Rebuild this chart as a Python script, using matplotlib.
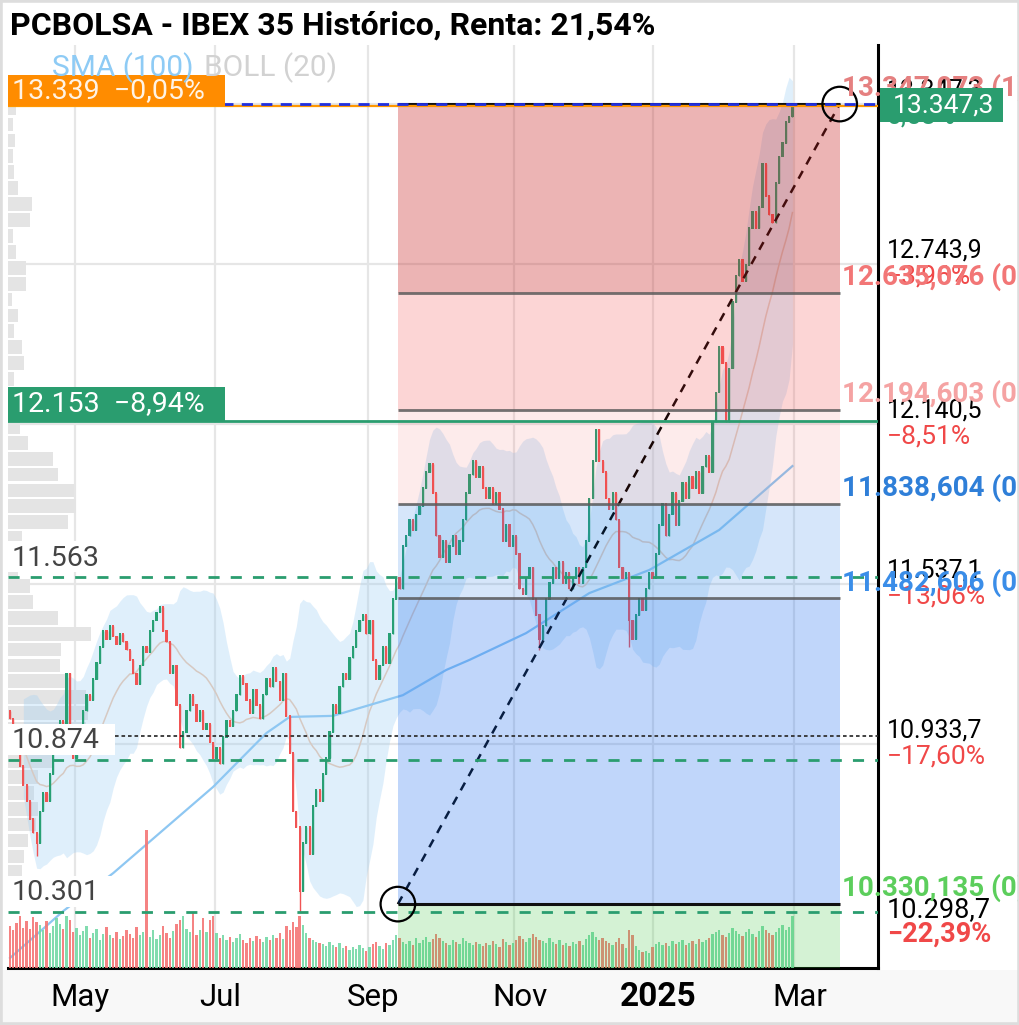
import numpy as np
import pandas as pd
import matplotlib
matplotlib.use('Agg')
import matplotlib.pyplot as plt
from matplotlib.patches import Rectangle
from matplotlib.transforms import blended_transform_factory

plt.rcParams['font.family'] = ['Roboto', 'DejaVu Sans']

W, H = 1020, 1025
PPX = 3.771        # puntos de precio por pixel
IPX = 1 / 3.33     # sesiones por pixel

# ---------------- datos ----------------
first_open = 11060
closes = [
    11030, 10990, 10950, 10850, 10780, 10720, 10650, 10600, 10560, 10680,
    10750, 10720, 10820, 10900, 10980, 11020, 10990, 11200, 11000, 10880,
    10950, 11000, 11060, 11120, 11100, 11180, 11240, 11300, 11360, 11330,
    11380, 11340, 11310, 11350, 11320, 11290, 11250, 11200, 11160, 11230,
    11300, 11280, 11360, 11400, 11430, 11450, 11360, 11320, 11200, 11230,
    11080, 10920, 10980, 11060, 11120, 11080, 11020, 11060, 10990, 11010,
    10940, 10880, 10920, 10860, 10960, 11020, 11000, 11060, 11120, 11190,
    11160, 11100, 11050, 11140, 11080, 11030, 11120, 11180, 11150, 11220,
    11170, 11100, 11200, 11040, 10900, 10680, 10620, 10380, 10560, 10620,
    10520, 10700, 10760, 10720, 10820, 10880, 10980, 11080, 11050, 11150,
    11200, 11180, 11260, 11300, 11360, 11400, 11420, 11350, 11400, 11250,
    11180, 11230, 11300, 11240, 11350, 11480, 11560, 11520, 11680, 11720,
    11780, 11740, 11800, 11830, 11900, 11960, 11990, 11880, 11720, 11640,
    11700, 11620, 11680, 11720, 11650, 11700, 11780, 11880, 11950, 12000,
    11940, 11980, 11900, 11860, 11900, 11840, 11880, 11820, 11700, 11760,
    11680, 11720, 11650, 11520, 11500, 11560, 11600, 11480, 11420, 11330,
    11380, 11480, 11540, 11600, 11560, 11620, 11540, 11580, 11520, 11560,
    11600, 11540, 11600, 11700, 11860, 12000, 12120, 12000, 11960, 11860,
    11820, 11880, 11780, 11600, 11560, 11580, 11400, 11330, 11420, 11480,
    11440, 11520, 11580, 11560, 11650, 11760, 11840, 11720, 11800, 11880,
    11760, 11850, 11920, 11860, 11940, 11900, 11960, 11880, 11980, 12020,
    11960, 12150, 12260, 12430, 12370, 12150, 12350, 12600, 12700, 12760,
    12680, 12740, 12880, 12940, 12880, 12960, 13120, 13000, 12930, 12900,
    13050, 13150, 13200, 13280, 13300, 13339,
]
low_idx = [8, 87, 159, 186]
low_val = [10510, 10301, 11290, 11300]

volume = [
    420, 380, 450, 520, 400, 470, 390, 510, 460, 430,
    380, 470, 350, 420, 500, 440, 390, 520, 480, 360,
    400, 330, 370, 420, 300, 350, 390, 280, 340, 410,
    330, 300, 360, 290, 320, 380, 340, 300, 410, 330,
    360, 1380, 310, 380, 290, 330, 420, 350, 300, 370,
    440, 480, 520, 390, 360, 560, 330, 380, 500, 360,
    480, 520, 350, 300, 330, 280, 310, 260, 300, 340,
    280, 250, 300, 270, 320, 290, 260, 310, 280, 330,
    300, 350, 290, 420, 380, 460, 410, 520, 430, 350,
    300, 280, 260, 250, 240, 220, 260, 230, 210, 250,
    200, 220, 180, 210, 190, 230, 200, 170, 210, 240,
    260, 220, 190, 250, 230, 280, 330, 300, 260, 240,
    270, 230, 300, 250, 280, 310, 260, 290, 340, 300,
    270, 250, 230, 280, 260, 240, 300, 270, 250, 230,
    260, 240, 220, 250, 230, 270, 240, 210, 290, 260,
    230, 250, 280, 320, 290, 260, 300, 340, 310, 280,
    270, 250, 300, 260, 240, 280, 230, 250, 220, 260,
    240, 270, 230, 290, 330, 360, 310, 280, 300, 270,
    250, 230, 260, 300, 240, 200, 380, 330, 220, 180,
    160, 170, 150, 210, 240, 260, 230, 250, 220, 270,
    240, 260, 280, 230, 250, 270, 240, 290, 260, 280,
    300, 340, 360, 380, 330, 310, 350, 400, 370, 340,
    320, 360, 390, 340, 310, 370, 420, 380, 350, 330,
    360, 400, 430, 380, 410, 520,
]

sma_idx = [0, 16, 31, 61, 77, 84, 97, 118, 131, 138, 155, 174, 192, 213, 235]
sma_val = [10127, 10304, 10447, 10772, 10975, 11036, 11040, 11118, 11213,
           11251, 11352, 11503, 11590, 11741, 11982]

profile_price = np.arange(10450, 13331, 60)
profile_vol = [14, 16, 20, 28, 30, 26, 30, 45, 52, 78,
               80, 78, 60, 52, 53, 83, 50, 25, 22, 10,
               8, 14, 60, 68, 66, 50, 45, 20, 12, 6,
               4, 6, 16, 14, 6, 10, 4, 18, 18, 8,
               5, 22, 24, 10, 6, 5, 7, 5, 8]

dash_levels = [11563, 10874, 10301]
dash_labels = ['11.563', '10.874', '10.301']
green_level, green_text = 12153, '12.153  −8,94%'
last_close, last_text = 13339, '13.339  −0,05%'
high_line = 13347
dotted_level = 10965

fib_ratios = [0, 0.382, 0.5, 0.618, 0.764, 1]
fib_vals = [10330.135, 11482.606, 11838.604, 12194.603, 12635.076, 13347.073]
fib_colors = ['#5cce5c', '#3a8de8', '#2f7fd8', '#f5a3a3', '#f27676', '#e58080']
fib_x0, fib_x1 = 116.5, 249.2

axis_ticks = [13347.3, 12743.9, 12140.5, 11537.1, 10933.7]
axis_pcts = ['0,58%', '−3,96%', '−8,51%', '−13,06%', '−17,60%']
min_tick, min_pct = 10298.7, '−22,39%'

month_pos = [19.5, 61.5, 107.5, 151.5, 193, 235.5]
month_lab = ['May', 'Jul', 'Sep', 'Nov', '2025', 'Mar']


def es(v, dec):
    s = f"{v:,.{dec}f}"
    return s.replace(',', 'X').replace('.', ',').replace('X', '.')


# ---------------- figura ----------------
fig = plt.figure(figsize=(W / 100, H / 100), dpi=100)
fig.patches.append(Rectangle((0, 0), 1, 55 / H, transform=fig.transFigure,
                             fc='#f8f8f8', ec='none', zorder=-5))
fig.patches.append(Rectangle((0, 0), 1, 1, transform=fig.transFigure,
                             fill=False, ec='#dddddd', lw=4, zorder=10))

ax = fig.add_axes([8 / W, 1 - 968 / H, 870 / W, 923 / H])
ymin, ymax = 10089.2, 13569.8
ax.set_xlim(-0.6, 260.7)
ax.set_ylim(ymin, ymax)
ax.set_xticks([])
ax.set_yticks([])
for s in ['left', 'top']:
    ax.spines[s].set_visible(False)
for s in ['right', 'bottom']:
    ax.spines[s].set_linewidth(2.2)
    ax.spines[s].set_color('black')

bt = blended_transform_factory(ax.transAxes, ax.transData)

# rejilla
for p in month_pos:
    ax.axvline(p, color='#e6e6e6', lw=1.6, zorder=0)
for t in axis_ticks:
    ax.axhline(t, color='#e6e6e6', lw=1.6, zorder=0)

# perfil de volumen
ax.barh(profile_price, np.array(profile_vol) * IPX, left=-0.6, height=52,
        color='#e4e4e4', zorder=1)

# bandas de Bollinger (20) y SMA (100)
x = np.arange(len(closes))
s = pd.Series(closes, dtype=float)
mid = s.rolling(20, min_periods=5).mean()
sd = s.rolling(20, min_periods=5).std(ddof=0)
ax.fill_between(x, mid - 2 * sd, mid + 2 * sd, color='#a0d0f5', alpha=0.33,
                lw=0, zorder=2)
ax.plot(x, mid, color='#d6c9c2', lw=1.1, zorder=2.5)
ax.plot(sma_idx, sma_val, color='#8ec7f2', lw=1.6, zorder=3)

# velas
opens = np.array([first_open] + closes[:-1], dtype=float)
cl = np.array(closes, dtype=float)
lows = np.minimum(opens, cl)
highs = np.maximum(opens, cl)
lows[low_idx] = low_val
up = cl >= opens
ccol = np.where(up, '#27a074', '#f05454')
ax.vlines(x, lows, highs, colors=ccol, lw=1.0, zorder=4)
ax.bar(x, np.abs(cl - opens) + 6, bottom=np.minimum(opens, cl) - 3,
       width=0.68, color=ccol, lw=0, zorder=4)

# volumen
vcol = np.where(up, '#74d9a6', '#f47676')
ax.bar(x, np.array(volume) * PPX / 10, bottom=ymin, width=0.7, color=vcol,
       alpha=0.9, lw=0, zorder=3.5)

# Fibonacci
fib_low, fib_high = fib_vals[0], fib_vals[-1]
ax.plot([fib_x0, fib_x1], [fib_low, fib_high], color='black', lw=1.8,
        ls=(0, (3.5, 3)), zorder=4.5)
zone_bounds = [ymin] + fib_vals
zone_cols = [('#3cc83c', 0.22), ('#1e6ef0', 0.28), ('#1e78e6', 0.18),
             ('#f03c3c', 0.10), ('#f53c3c', 0.21), ('#c82828', 0.345)]
for (c, a), lo, hi in zip(zone_cols, zone_bounds[:-1], zone_bounds[1:]):
    ax.fill_between([fib_x0, fib_x1], lo, hi, color=c, alpha=a, lw=0, zorder=5)
for r, v in zip(fib_ratios, fib_vals):
    if r in (0, 1):
        ax.hlines(v, fib_x0, fib_x1, color='#111111', lw=2.2, zorder=6)
    else:
        ax.hlines(v, fib_x0, fib_x1, color='#5a5a5a', lw=2.0, alpha=0.85, zorder=6)
ax.scatter([fib_x0, fib_x1], [fib_low, fib_high], s=620, facecolors='none',
           edgecolors='black', lw=1.6, zorder=9)

# niveles horizontales
for lv in dash_levels:
    ax.axhline(lv, color='#2a9d6f', lw=2, ls=(0, (4, 4)), zorder=7)
ax.axhline(green_level, color='#2a9d6f', lw=2, zorder=7)
ax.hlines(dotted_level, (115 - 8) / 870 * 261.3 - 0.6, 260.7, color='#333333',
          lw=1.3, ls=(0, (2, 1.6)), zorder=7)
ax.axhline(last_close, color='#ff9800', lw=1.6, zorder=7)
ax.axhline(high_line, color='#1f2fe0', lw=2, ls=(0, (4, 3)), zorder=7.2)

# etiquetas izquierda
for lv, lab in zip(dash_levels, dash_labels):
    ax.add_patch(Rectangle((0, lv + 5 * PPX), 0.123, 31 * PPX, transform=bt,
                           fc='white', ec='none', zorder=8))
    ax.text(0.004, lv + 19 * PPX, lab, transform=bt, fontsize=20.5,
            color='#444444', va='center', ha='left', zorder=9)

ax.add_patch(Rectangle((0, green_level), 0.2494, 34 * PPX, transform=bt,
                       fc='#2a9d6f', ec='none', zorder=8))
ax.text(0.005, green_level + 17 * PPX, green_text, transform=bt, fontsize=20.5,
        color='white', va='center', ha='left', zorder=9)
ax.add_patch(Rectangle((0, last_close), 0.2494, 31 * PPX, transform=bt,
                       fc='#ff8c00', ec='none', zorder=8))
ax.text(0.005, last_close + 15.5 * PPX, last_text, transform=bt, fontsize=20.5,
        color='white', va='center', ha='left', zorder=9, alpha=0.9)

fig.text(52 / W, 1 - 68 / H, 'SMA (100)', fontsize=21.5, color='#8ecbf5',
         va='center', ha='left', zorder=12)
fig.text(204 / W, 1 - 68 / H, 'BOLL (20)', fontsize=21.5, color='#d2d2d2',
         va='center', ha='left', zorder=12)

# eje de precios (derecha)
for t, p in zip(axis_ticks, axis_pcts):
    ax.text(1.0103, t + 14 * PPX, es(t, 1), transform=bt, fontsize=18,
            color='black', va='center', ha='left', clip_on=False, zorder=10)
    ax.text(1.0103, t - 12 * PPX, p, transform=bt, fontsize=19,
            color='#f04848' if p.startswith('−') else '#2a9d6f',
            va='center', ha='left', clip_on=False, zorder=10)
ax.text(1.0103, min_tick + 3 * PPX, es(min_tick, 1), transform=bt, fontsize=19.5,
        color='black', va='center', ha='left', clip_on=False, zorder=10)
ax.text(1.0103, min_tick - 22 * PPX, min_pct, transform=bt, fontsize=19.5,
        weight='bold', color='#f04848', va='center', ha='left', clip_on=False,
        zorder=10)

for r, v, c in zip(fib_ratios, fib_vals, fib_colors):
    ax.text(0.9586, v + 16 * PPX, f"{es(v, 3)} ({r})", transform=bt,
            fontsize=20, weight='bold', color=c, va='center', ha='left',
            clip_on=False, zorder=11)

ax.add_patch(Rectangle((1.0023, axis_ticks[0] - 18 * PPX), 0.1414, 34 * PPX,
                       transform=bt, fc='#2a9d6f', ec='none', clip_on=False,
                       zorder=12))
ax.text(1.0172, axis_ticks[0] - 1 * PPX, es(axis_ticks[0], 1), transform=bt,
        fontsize=19, color='white', va='center', ha='left', clip_on=False,
        zorder=13)

# eje de fechas
tb = blended_transform_factory(ax.transData, ax.transAxes)
for p, lab in zip(month_pos, month_lab):
    bold = lab.isdigit()
    ax.text(p + 1.6, -(997 - 968) / 923, lab, transform=tb,
            fontsize=24 if bold else 22.5, weight='bold' if bold else 'normal',
            color='black', ha='center', va='center', clip_on=False)

fig.text(10 / W, 1 - 26 / H, 'PCBOLSA - IBEX 35 Histórico, Renta: 21,54%',
         fontsize=23, weight='bold', va='center', ha='left')

fig.savefig('out.png', dpi=100)
